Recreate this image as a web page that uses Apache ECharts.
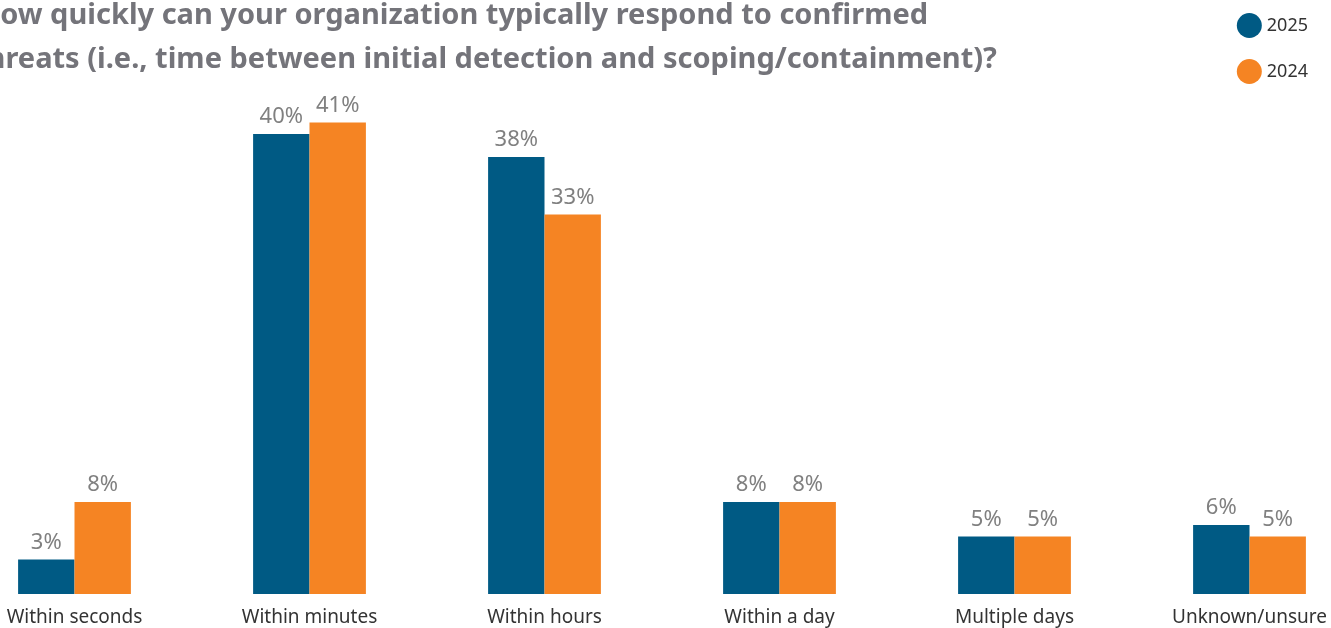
<!DOCTYPE html>
<html><head><meta charset="utf-8">
<script src="https://cdn.jsdelivr.net/npm/echarts@6/dist/echarts.min.js"></script>
<style>html,body{margin:0;padding:0;background:#fff}#c{width:1331px;height:628px}</style>
</head><body><div id="c"></div>
<script>
const categories = ['Within seconds','Within minutes','Within hours','Within a day','Multiple days','Unknown/unsure'];
const values2025 = [3,40,38,8,5,6];
const values2024 = [8,41,33,8,5,5];
const titleLines = ['How quickly can your organization typically respond to confirmed','threats (i.e., time between initial detection and scoping/containment)?'];
const chart = echarts.init(document.getElementById('c'));
const lbl = {show:true,position:'top',distance:6,formatter:'{c}%',color:'#808080',fontSize:22,fontFamily:'Noto Sans'};
chart.setOption({
  animation:false,
  graphic:[
    {type:'text',left:-22,top:1,style:{text:titleLines[0],font:'bold 29px "Noto Sans"',fill:'#74747a'}},
    {type:'text',left:-26,top:45,style:{text:titleLines[1],font:'bold 29px "Noto Sans"',fill:'#74747a'}}
  ],
  legend:{orient:'vertical',right:18,top:8,icon:'circle',itemWidth:25,itemHeight:25,itemGap:21,
    textStyle:{fontSize:18,color:'#333',fontFamily:'Noto Sans'},data:['2025','2024']},
  grid:{left:-43,right:-36,top:76.5,bottom:34,outerBoundsMode:'none',containLabel:false},
  xAxis:{type:'category',data:categories,axisLine:{show:false},axisTick:{show:false},
    axisLabel:{color:'#333',fontSize:19,fontFamily:'Noto Sans',margin:14}},
  yAxis:{type:'value',min:0,max:45,show:false,splitLine:{show:false}},
  series:[
    {name:'2025',type:'bar',data:values2025,barGap:'0%',barCategoryGap:'52%',itemStyle:{color:'#005a84'},label:lbl},
    {name:'2024',type:'bar',data:values2024,barGap:'0%',barCategoryGap:'52%',itemStyle:{color:'#f58423'},label:lbl}
  ]
});
</script></body></html>
